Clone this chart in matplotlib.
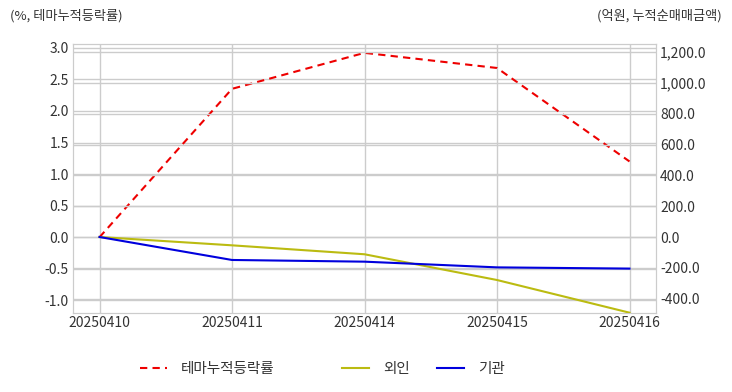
import matplotlib
matplotlib.use("Agg")
import matplotlib.pyplot as plt
from matplotlib.ticker import FuncFormatter, MultipleLocator

plt.rcParams['font.family'] = ['Noto Sans CJK KR', 'DejaVu Sans']

dates = ["20250410", "20250411", "20250414", "20250415", "20250416"]
theme_rate = [0.0, 2.35, 2.92, 2.68, 1.20]
foreign = [0.0, -54, -112, -279, -491]
institution = [0.0, -149, -160, -197, -205]

txt = '#333333'
gridc = '#cccccc'

fig = plt.figure(figsize=(7.32, 3.92), dpi=100)
ax = fig.add_axes([73/732, 1-313/392, (656-73)/732, (313-44)/392])
ax2 = ax.twinx()

x = list(range(len(dates)))
l1, = ax.plot(x, theme_rate, color='#ee0000', ls=(0, (3.5, 2.5)), lw=1.5, label='테마누적등락률', zorder=3)
l2, = ax2.plot(x, foreign, color='#bbbb11', lw=1.5, label='외인', zorder=3)
l3, = ax2.plot(x, institution, color='#0000dd', lw=1.5, label='기관', zorder=3)

ax.set_xlim(-0.2, 4.2)
ax.set_ylim(-1.2, 3.06)
ax2.set_ylim(-493, 1252)
ax.yaxis.set_major_locator(MultipleLocator(0.5))
ax2.yaxis.set_major_locator(MultipleLocator(200))
ax.yaxis.set_major_formatter(FuncFormatter(lambda v, p: f"{v:.1f}"))
ax2.yaxis.set_major_formatter(FuncFormatter(lambda v, p: f"{v:,.1f}"))
ax.set_xticks(x)
ax.set_xticklabels(dates)

for a in (ax, ax2):
    a.grid(True, color=gridc, lw=1)
    a.set_axisbelow(True)
    for s in a.spines.values():
        s.set_color(gridc)
    a.tick_params(length=0, labelsize=10, colors=txt, pad=3)
ax2.grid(True, axis='y', color=gridc, lw=1)
ax2.grid(False, axis='x')
ax.tick_params(axis='x', pad=2)

fig.text(10/732, 1-16/392, "(%, 테마누적등락률)", fontsize=9.5, color=txt, va='center', ha='left')
fig.text(722/732, 1-16/392, "(억원, 누적순매매금액)", fontsize=9.5, color=txt, va='center', ha='right')

leg1 = fig.legend(handles=[l1], loc='center left', bbox_to_anchor=(127/732, 1-369/392),
                  frameon=False, fontsize=10.5, handlelength=1.85, handletextpad=0.95)
for t in leg1.get_texts():
    t.set_color(txt)
leg2 = fig.legend(handles=[l2, l3], loc='center left', bbox_to_anchor=(329/732, 1-369/392),
                  frameon=False, fontsize=10.5, ncol=2, handlelength=1.85, handletextpad=0.95,
                  columnspacing=1.9)
for t in leg2.get_texts():
    t.set_color(txt)

fig.savefig("out.png", dpi=100)
